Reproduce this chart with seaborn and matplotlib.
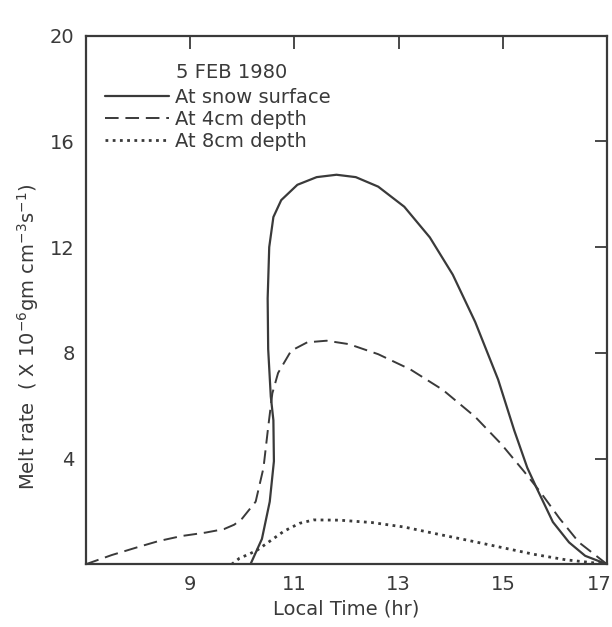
import numpy as np
import pandas as pd
import matplotlib
matplotlib.use("Agg")
import matplotlib.pyplot as plt
import matplotlib.transforms as mtransforms
import seaborn as sns

# values (local time in hr, melt rate x1e-6 gm cm-3 s-1)
surf_t = [10.16, 10.38, 10.53, 10.61, 10.60, 10.55, 10.50, 10.49, 10.52, 10.60,
          10.75, 11.06, 11.43, 11.81, 12.18, 12.61, 13.11, 13.6, 14.04, 14.47,
          14.91, 15.22, 15.47, 15.65, 15.96, 16.27, 16.58, 17.0]
surf_v = [0.0, 0.96, 2.37, 3.9, 5.45, 6.35, 8.14, 10.06, 12.0, 13.14,
          13.78, 14.36, 14.65, 14.74, 14.65, 14.29, 13.53, 12.37, 10.96, 9.17,
          6.99, 5.06, 3.65, 2.88, 1.6, 0.83, 0.32, 0.0]

d4_t = [7.0, 7.5, 8.0, 8.4, 8.84, 9.3, 9.65, 9.85, 10.0, 10.26, 10.41, 10.5,
        10.58, 10.69, 10.94, 11.25, 11.62, 12.05, 12.61, 13.23, 13.85, 14.47,
        14.97, 15.4, 15.71, 16.09, 16.46, 17.0]
d4_v = [0.0, 0.35, 0.65, 0.88, 1.07, 1.2, 1.33, 1.5, 1.73, 2.37, 3.65, 5.19,
        6.47, 7.24, 8.08, 8.4, 8.46, 8.33, 7.95, 7.37, 6.6, 5.58,
        4.55, 3.53, 2.76, 1.73, 0.83, 0.0]

d8_t = [9.8, 9.95, 10.15, 10.3, 10.55, 10.8, 11.1, 11.37, 11.87, 12.49,
        13.11, 13.73, 14.35, 14.97, 15.59, 16.21, 17.0]
d8_v = [0.0, 0.23, 0.4, 0.55, 0.9, 1.25, 1.55, 1.68, 1.67, 1.58,
        1.41, 1.15, 0.9, 0.64, 0.38, 0.17, 0.0]

x_ticks = [9, 11, 13, 15, 17]
y_ticks = [4, 8, 12, 16, 20]

sns.set_style("white")
plt.rcParams['font.family'] = ['DejaVu Sans']
ink = "#3a3a3a"

fig = plt.figure(figsize=(6.12, 6.27), dpi=100)
ax = fig.add_axes([0.14, 0.1, 0.852, 0.843])

sns.lineplot(x=surf_t, y=surf_v, sort=False, estimator=None, color=ink,
             lw=1.6, ax=ax, label="At snow surface")
sns.lineplot(x=d4_t, y=d4_v, sort=False, estimator=None, color=ink,
             lw=1.4, ax=ax, label="At 4cm depth")
sns.lineplot(x=d8_t, y=d8_v, sort=False, estimator=None, color=ink,
             lw=2.0, ax=ax, label="At 8cm depth")
lines = ax.get_lines()
for ln in lines:
    ln.set_solid_joinstyle("round")
lines[1].set_linestyle((0, (7, 3.5)))
lines[2].set_linestyle((0, (1, 1.6)))

ax.set_xlim(7, 17)
ax.set_ylim(0, 20)
ax.set_xticks(x_ticks)
ax.set_yticks(y_ticks)
ax.tick_params(direction="in", length=9, width=1.3, colors=ink, labelsize=14,
               top=True, right=True, labeltop=False, labelright=False, pad=8)
for s in ax.spines.values():
    s.set_color(ink)
    s.set_linewidth(1.6)

# keep the last x label inside the figure, as in the scan
last = ax.get_xticklabels()[-1]
last.set_transform(last.get_transform() +
                   mtransforms.ScaledTranslation(-6 / 72, 0, fig.dpi_scale_trans))

ax.set_xlabel("Local Time (hr)", fontsize=14, color=ink, labelpad=4)
ax.set_ylabel("Melt rate  ( X 10$^{-6}$gm cm$^{-3}$s$^{-1}$)", fontsize=14,
              color=ink)
ax.yaxis.set_label_coords(-0.085, 0.43)

fig.text(176 / 612, 1 - 72 / 627, "5 FEB 1980", fontsize=14, color=ink,
         ha="left", va="center")
leg = ax.legend(loc="upper left", bbox_to_anchor=(105 / 612, 1 - 88 / 627),
                bbox_transform=fig.transFigure, frameon=False, fontsize=14,
                handlelength=3.3, handletextpad=0.3, labelspacing=0.15,
                borderaxespad=0, borderpad=0)
for t in leg.get_texts():
    t.set_color(ink)

fig.savefig("out.png", dpi=100)
